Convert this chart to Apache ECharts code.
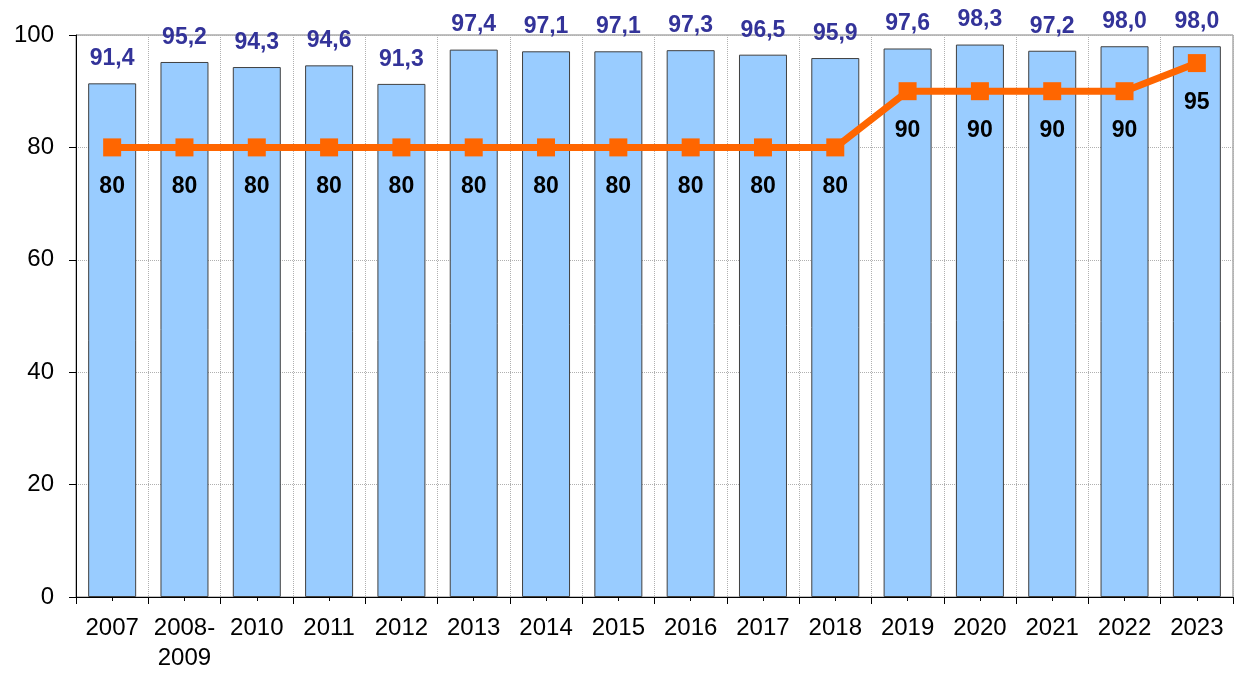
<!DOCTYPE html>
<html><head><meta charset="utf-8">
<script src="https://cdn.jsdelivr.net/npm/echarts@6/dist/echarts.min.js"></script>
<style>html,body{margin:0;padding:0;background:#fff}#c{width:1234px;height:673px}</style>
</head><body><div id="c"></div>
<script>
const categories = ['2007','2008-\n2009','2010','2011','2012','2013','2014','2015','2016','2017','2018','2019','2020','2021','2022','2023'];
const barValues = [91.4,95.2,94.3,94.6,91.3,97.4,97.1,97.1,97.3,96.5,95.9,97.6,98.3,97.2,98.0,98.0];
const targetValues = [80,80,80,80,80,80,80,80,80,80,80,90,90,90,90,95];
const yTicks = [0,20,40,60,80,100];

const chart = echarts.init(document.getElementById('c'));
const font = 'Liberation Sans, Arial, sans-serif';
chart.setOption({
  animation:false,
  grid:{left:76,right:1,top:35,bottom:75,show:true,borderColor:'#808080',borderWidth:1,backgroundColor:'transparent'},
  xAxis:[{
    type:'category',data:categories,position:'bottom',
    axisLine:{lineStyle:{color:'#000',width:1}},
    axisTick:{show:true,interval:0,alignWithLabel:false,length:7,lineStyle:{color:'#000'}},
    axisLabel:{interval:0,color:'#000',fontSize:24,fontFamily:font,margin:16,lineHeight:30},
    splitLine:{show:true,interval:0,lineStyle:{color:'#b0b0b0',type:'dotted',width:1}}
  },{
    type:'category',data:categories,position:'bottom',
    axisLine:{show:false},
    axisTick:{show:true,interval:0,alignWithLabel:true,length:4,lineStyle:{color:'#000'}},
    axisLabel:{show:false},splitLine:{show:false}
  }],
  yAxis:{
    type:'value',min:yTicks[0],max:yTicks[yTicks.length-1],interval:20,
    axisLine:{show:true,lineStyle:{color:'#000',width:1}},
    axisTick:{show:true,length:7,lineStyle:{color:'#000'}},
    axisLabel:{color:'#000',fontSize:24,fontFamily:font,margin:22},
    splitLine:{show:true,lineStyle:{color:'#b0b0b0',type:'dotted',width:1}}
  },
  series:[{
    type:'bar',data:barValues,barWidth:48,
    itemStyle:{color:'#99CCFF',borderColor:'#404040',borderWidth:1},
    label:{show:true,position:'top',distance:13,color:'#333399',fontWeight:'bold',fontSize:23,fontFamily:font,
      formatter:p=>p.value.toFixed(1).replace('.',',')}
  },{
    type:'line',data:targetValues,symbol:'rect',symbolSize:18,
    lineStyle:{color:'#FF6600',width:7},itemStyle:{color:'#FF6600'},
    label:{show:true,position:'bottom',distance:19,color:'#000',fontWeight:'bold',fontSize:23,fontFamily:font},
    z:5
  }]
});
</script></body></html>
